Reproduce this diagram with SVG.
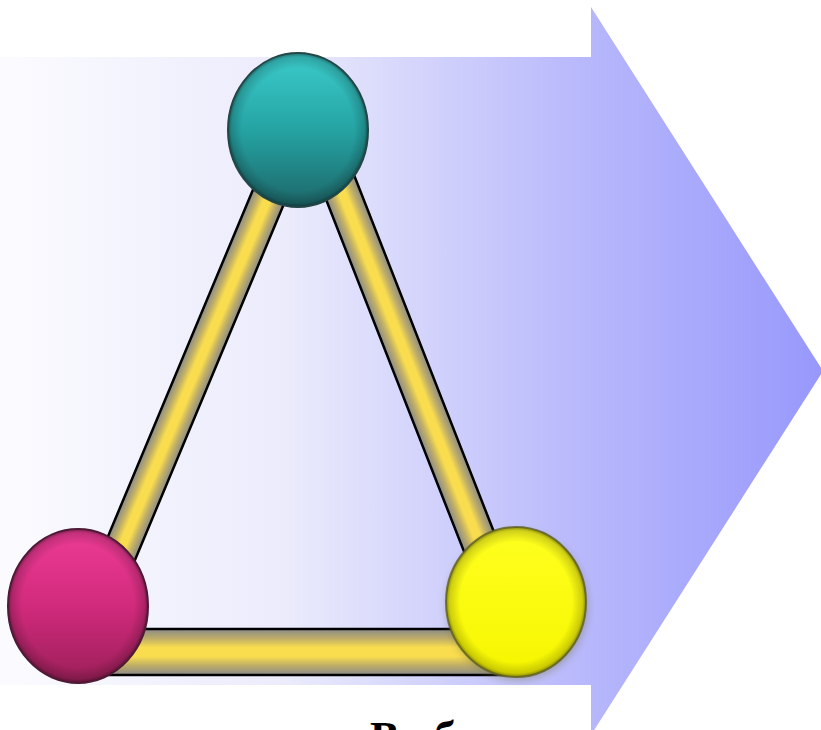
<svg xmlns="http://www.w3.org/2000/svg" width="821" height="730" viewBox="0 0 821 730">
  <defs>
    <linearGradient id="bgGrad" x1="0" y1="0" x2="821" y2="0" gradientUnits="userSpaceOnUse">
      <stop offset="0" stop-color="#fbfbff"/>
      <stop offset="0.35" stop-color="#ebebfc"/>
      <stop offset="0.7" stop-color="#b9b9fc"/>
      <stop offset="1" stop-color="#9898fc"/>
    </linearGradient>
    <linearGradient id="barGrad" x1="0" y1="0" x2="0" y2="1">
      <stop offset="0" stop-color="#8a8a8a"/>
      <stop offset="0.22" stop-color="#c2b066"/>
      <stop offset="0.4" stop-color="#f9dd4f"/>
      <stop offset="0.6" stop-color="#f9dd4f"/>
      <stop offset="0.78" stop-color="#c2b066"/>
      <stop offset="1" stop-color="#8a8a8a"/>
    </linearGradient>
    <linearGradient id="tealGrad" x1="0" y1="0" x2="0" y2="1">
      <stop offset="0" stop-color="#3ccccc"/>
      <stop offset="0.5" stop-color="#25a3a3"/>
      <stop offset="1" stop-color="#1d6668"/>
    </linearGradient>
    <linearGradient id="magGrad" x1="0" y1="0" x2="0" y2="1">
      <stop offset="0" stop-color="#ee3c96"/>
      <stop offset="0.5" stop-color="#d12a7c"/>
      <stop offset="1" stop-color="#9a1f58"/>
    </linearGradient>
    <linearGradient id="yelGrad" x1="0" y1="0" x2="0" y2="1">
      <stop offset="0" stop-color="#ffff20"/>
      <stop offset="1" stop-color="#f6f600"/>
    </linearGradient>
    <radialGradient id="edgeShade" cx="0.5" cy="0.5" r="0.5">
      <stop offset="0.8" stop-color="#000" stop-opacity="0"/>
      <stop offset="0.95" stop-color="#000" stop-opacity="0.18"/>
      <stop offset="1" stop-color="#000" stop-opacity="0.45"/>
    </radialGradient>
    <filter id="soft" x="-20%" y="-20%" width="140%" height="140%">
      <feGaussianBlur stdDeviation="4"/>
    </filter>
  </defs>
  <style>
    .bar { fill: url(#barGrad); stroke: #000; stroke-width: 2.5; }
    .rim { fill: url(#edgeShade); }
    .ball-stroke { fill: none; stroke-width: 2; }
    .label { font-family: "Liberation Serif", "Times New Roman", serif; font-weight: bold; font-size: 44px; fill: #000; }
  </style>

  <path d="M0,57 L591,57 L591,7 L823,371 L591,735 L591,685 L0,685 Z" fill="url(#bgGrad)"/>

  <g id="connectors">
    <rect class="bar" x="0" y="-17" width="515" height="34" transform="translate(296,131) rotate(112.7)"/>
    <rect class="bar" x="0" y="-17.5" width="506" height="35" transform="translate(318,131) rotate(68.6)"/>
    <rect class="bar" x="78" y="629" width="438" height="46"/>
  </g>

  <g id="node-teal">
    <ellipse cx="298" cy="130" rx="70" ry="77" fill="url(#tealGrad)"/>
    <ellipse cx="298" cy="130" rx="70" ry="77" class="rim"/>
    <ellipse cx="298" cy="130" rx="70" ry="77" class="ball-stroke" stroke="#234646"/>
  </g>

  <g id="node-magenta">
    <ellipse cx="78" cy="606" rx="70" ry="77" fill="url(#magGrad)"/>
    <ellipse cx="78" cy="606" rx="70" ry="77" class="rim"/>
    <ellipse cx="78" cy="606" rx="70" ry="77" class="ball-stroke" stroke="#4e1a36"/>
  </g>

  <g id="node-yellow">
    <ellipse cx="517" cy="606" rx="70" ry="74" fill="#707040" opacity="0.45" filter="url(#soft)"/>
    <ellipse cx="516" cy="602" rx="70" ry="75" fill="url(#yelGrad)"/>
    <ellipse cx="516" cy="602" rx="70" ry="75" class="rim"/>
    <ellipse cx="516" cy="602" rx="70" ry="75" class="ball-stroke" stroke="#5e5e20" stroke-opacity="0.8"/>
  </g>

  <text class="label" x="370" y="752">Выб</text>
</svg>
